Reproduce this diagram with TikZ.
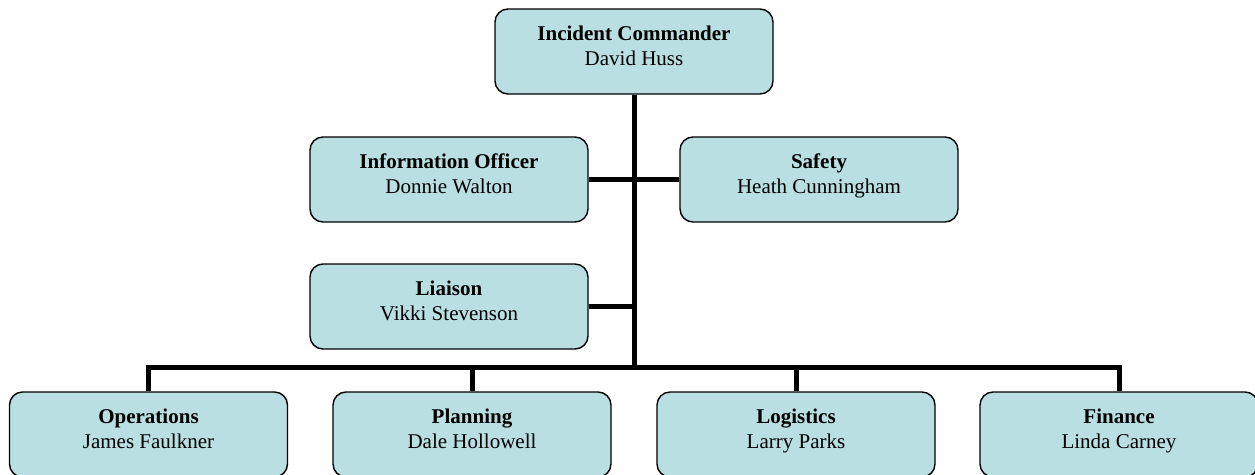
\documentclass[tikz,border=0pt]{standalone}
\usepackage{fontspec}
\setmainfont{Liberation Serif}
\usetikzlibrary{positioning}
\definecolor{boxfill}{RGB}{185,223,226}

\begin{document}
\begin{tikzpicture}[x=1pt, y=1pt,
    unit/.style={draw=black, line width=1.4pt, fill=boxfill, rounded corners=13pt,
        minimum width=278pt, minimum height=85pt, align=center, text depth=12.5pt,
        font=\fontsize{21}{25}\selectfont},
    link/.style={line width=5pt, black}]
            \useasboundingbox (0,0) rectangle (1255,-474);
            \clip (0,0) rectangle (1255,-474);

            % Command staff
            \node[unit] (cmd) at (634,-51.5) {\textbf{Incident Commander}\\David Huss};
            \node[unit] (info) at (449,-179.5) {\textbf{Information Officer}\\Donnie Walton};
            \node[unit] (safety) at (819,-179.5) {\textbf{Safety}\\Heath Cunningham};
            \node[unit] (liaison) at (449,-306.5) {\textbf{Liaison}\\Vikki Stevenson};

            % General staff sections
            \node[unit] (ops) at (148.5,-434.5) {\textbf{Operations}\\James Faulkner};
            \node[unit] (plan) at (472,-434.5) {\textbf{Planning}\\Dale Hollowell};
            \node[unit] (logi) at (796,-434.5) {\textbf{Logistics}\\Larry Parks};
            \node[unit] (fin) at (1119,-434.5) {\textbf{Finance}\\Linda Carney};

            % Trunk and bar
            \coordinate (bar) at (cmd.south |- 0,-367);
            \draw[link] (cmd.south) -- (bar);
            \draw[link] (info.east) -- (info.east -| bar);
            \draw[link] (safety.west) -- (safety.west -| bar);
            \draw[link] (liaison.east) -- (liaison.east -| bar);
            \draw[link, line join=miter] (ops.north) |- (bar) -| (fin.north);
            \draw[link] (plan.north) -- (plan.north |- bar);
            \draw[link] (logi.north) -- (logi.north |- bar);

        \end{tikzpicture}
\end{document}
